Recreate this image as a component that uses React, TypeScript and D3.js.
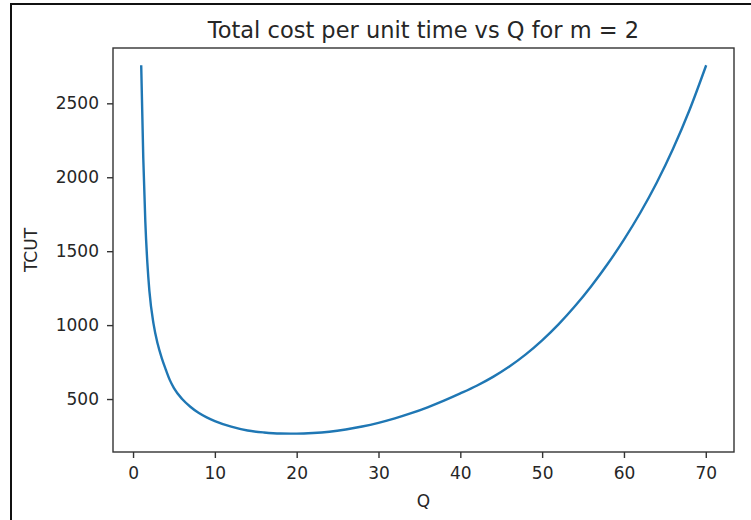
import React, { useEffect, useRef } from 'react';
import * as d3 from 'd3';

// Q values (order quantity) and TCUT
const qValues = [
  1, 1.25, 1.5, 1.75, 2, 2.5, 3, 3.5, 4, 4.5, 5, 6, 7, 8, 9, 10, 12, 14, 16, 18, 20,
  22, 24, 26, 28, 30, 32, 34, 36, 38, 40, 42, 44, 46, 48, 50, 52, 54, 56, 58, 60,
  62, 64, 66, 68, 70,
];
const tcutValues = [
  2750, 2130, 1700, 1420, 1230, 1010, 875, 779, 700, 628, 574, 500, 448, 407, 376, 351, 313, 287, 274, 267, 266,
  270, 279, 294, 314, 339, 369, 404, 444, 489, 538, 590, 650, 720, 802, 897, 1005, 1127, 1263, 1413, 1578,
  1760, 1963, 2193, 2453, 2750,
];
const xTicks = [0, 10, 20, 30, 40, 50, 60, 70];
const yTicks = [500, 1000, 1500, 2000, 2500];

const titleText = 'Total cost per unit time vs Q for m = 2';
const xLabel = 'Q';
const yLabel = 'TCUT';

const font = '"DejaVu Sans", sans-serif';

const App = () => {
  const svgRef = useRef<SVGSVGElement>(null);

  useEffect(() => {
    if (!svgRef.current) return;
    const svg = d3.select(svgRef.current);
    svg.selectAll('*').remove();

    const plot = { left: 113, right: 734, top: 48, bottom: 452 };

    // matplotlib style 5% margins
    const pad = (ext: [number, number]) => {
      const m = (ext[1] - ext[0]) * 0.05;
      return [ext[0] - m, ext[1] + m];
    };
    const xScale = d3.scaleLinear()
      .domain(pad(d3.extent(qValues) as [number, number]))
      .range([plot.left, plot.right]);
    const yScale = d3.scaleLinear()
      .domain(pad(d3.extent(tcutValues) as [number, number]))
      .range([plot.bottom, plot.top]);

    // outer frame (cut off on the right and bottom)
    svg.append('rect')
      .attr('x', 11).attr('y', 4)
      .attr('width', 800).attr('height', 600)
      .attr('fill', 'white')
      .attr('stroke', '#111').attr('stroke-width', 2);

    const data = qValues.map((q, i) => ({ q, v: tcutValues[i] }));
    const line = d3.line<{ q: number; v: number }>()
      .x(d => xScale(d.q))
      .y(d => yScale(d.v))
      .curve(d3.curveMonotoneX);

    svg.append('path')
      .datum(data)
      .attr('d', line)
      .attr('fill', 'none')
      .attr('stroke', '#1f77b4')
      .attr('stroke-width', 2.4)
      .attr('stroke-linejoin', 'round')
      .attr('stroke-linecap', 'square');

    // axes
    const xAxis = d3.axisBottom(xScale).tickValues(xTicks).tickFormat(d3.format('d'))
      .tickSize(6).tickPadding(9).tickSizeOuter(0);
    const yAxis = d3.axisLeft(yScale).tickValues(yTicks).tickFormat(d3.format('d'))
      .tickSize(6).tickPadding(8).tickSizeOuter(0);

    const gx = svg.append('g')
      .attr('transform', `translate(0, ${plot.bottom})`)
      .call(xAxis);
    const gy = svg.append('g')
      .attr('transform', `translate(${plot.left}, 0)`)
      .call(yAxis);

    [gx, gy].forEach(g => {
      g.select('.domain').remove();
      g.selectAll('line').attr('stroke', '#333').attr('stroke-width', 1.4);
      g.selectAll('text')
        .attr('fill', '#262626')
        .style('font-family', font)
        .style('font-size', '17px');
    });

    // spines
    svg.append('rect')
      .attr('x', plot.left).attr('y', plot.top)
      .attr('width', plot.right - plot.left)
      .attr('height', plot.bottom - plot.top)
      .attr('fill', 'none')
      .attr('stroke', '#333')
      .attr('stroke-width', 1.4);

    svg.append('text')
      .attr('x', (plot.left + plot.right) / 2)
      .attr('y', 38)
      .attr('text-anchor', 'middle')
      .attr('fill', '#262626')
      .style('font-family', font)
      .style('font-size', '22.5px')
      .text(titleText);

    svg.append('text')
      .attr('x', (plot.left + plot.right) / 2)
      .attr('y', 507)
      .attr('text-anchor', 'middle')
      .attr('fill', '#262626')
      .style('font-family', font)
      .style('font-size', '17px')
      .text(xLabel);

    svg.append('text')
      .attr('transform', `translate(37, ${(plot.top + plot.bottom) / 2}) rotate(-90)`)
      .attr('text-anchor', 'middle')
      .attr('fill', '#262626')
      .style('font-family', font)
      .style('font-size', '17px')
      .text(yLabel);
  }, []);

  return (
    <svg
      ref={svgRef}
      width={751}
      height={520}
      style={{ position: 'absolute', left: 0, top: 0, background: 'white' }}
    />
  );
};

export default App;
